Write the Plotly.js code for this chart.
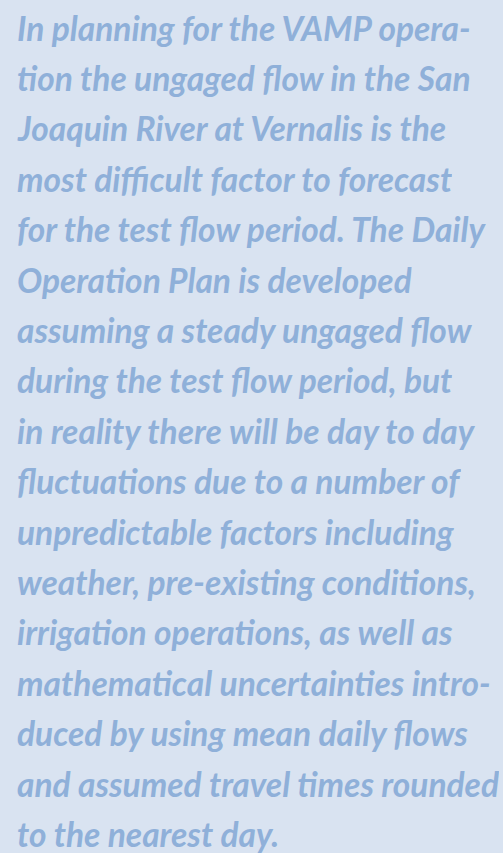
<!DOCTYPE html>
<html><head><meta charset="utf-8">
<script src="https://cdn.plot.ly/plotly-3.0.1.min.js"></script>
<style>html,body{margin:0;padding:0;background:#d9e3f1;}#c{width:503px;height:853px;}</style>
</head><body><div id="c"></div>
<script>
const lines = [
"In planning for the VAMP opera-",
"tion the ungaged flow in the San",
"Joaquin River at Vernalis is the",
"most difficult factor to forecast",
"for the test flow period. The Daily",
"Operation Plan is developed",
"assuming a steady ungaged flow",
"during the test flow period, but",
"in reality there will be day to day",
"fluctuations due to a number of",
"unpredictable factors including",
"weather, pre-existing conditions,",
"irrigation operations, as well as",
"mathematical uncertainties intro-",
"duced by using mean daily flows",
"and assumed travel times rounded",
"to the nearest day."
];
const lineNo = lines.map((_, i) => i);
const firstY = 27.5, step = 50.4;
const annotations = lines.map((t, i) => ({
  text: t, xref: 'x', yref: 'y', x: 15, y: firstY + lineNo[i] * step,
  xanchor: 'left', yanchor: 'middle', showarrow: false, height: 40, valign: 'middle',
  font: {family: 'Lato', size: 33.5, color: '#8fb0d9', weight: 'bold', style: 'italic'}
}));
Plotly.newPlot('c', [], {
  width: 503, height: 853,
  margin: {l: 0, r: 0, t: 0, b: 0},
  paper_bgcolor: '#d9e3f1', plot_bgcolor: '#d9e3f1',
  xaxis: {range: [0, 503], visible: false, fixedrange: true},
  yaxis: {range: [853, 0], visible: false, fixedrange: true},
  annotations: annotations,
  showlegend: false
}, {displayModeBar: false, staticPlot: true});
</script></body></html>
